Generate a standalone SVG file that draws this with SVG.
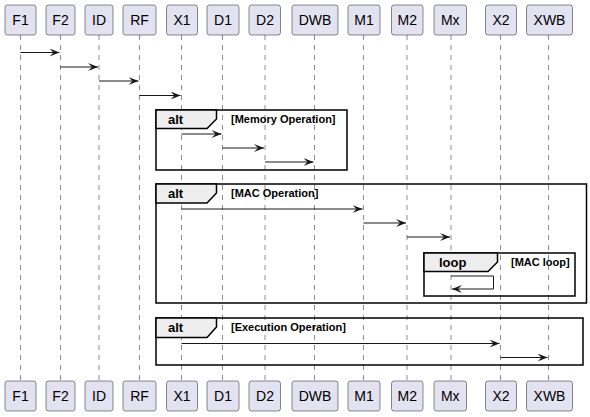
<svg xmlns="http://www.w3.org/2000/svg" width="590" height="417" viewBox="0 0 590 417">
<defs>
<style>
.p rect{fill:#E2E2F0;stroke:#181818;stroke-width:0.5}
.p text{font-family:"Liberation Sans",Arial,sans-serif;font-size:14px;fill:#000;text-anchor:middle}
.life{stroke:#181818;stroke-width:0.5;stroke-dasharray:5,5}
.msg{stroke:#181818;stroke-width:1;fill:none}
.frame{fill:none;stroke:#000;stroke-width:1.5}
.tab{fill:#EEEEEE;stroke:#000;stroke-width:1.5}
.kw{font-family:"Liberation Sans",Arial,sans-serif;font-size:13px;font-weight:bold;fill:#000}
.cond{font-family:"Liberation Sans",Arial,sans-serif;font-size:11px;font-weight:bold;fill:#000}
</style>
<marker id="ah" viewBox="0 0 10 8" refX="10" refY="4" markerWidth="10" markerHeight="8" orient="auto" markerUnits="userSpaceOnUse">
<polygon points="0,0 10,4 0,8 4,4" fill="#181818"/>
</marker>
</defs>
<g id="lifelines">
<line class="life" x1="20.5" y1="35" x2="20.5" y2="381"/>
<line class="life" x1="60.5" y1="35" x2="60.5" y2="381"/>
<line class="life" x1="99" y1="35" x2="99" y2="381"/>
<line class="life" x1="139.5" y1="35" x2="139.5" y2="381"/>
<line class="life" x1="181.5" y1="35" x2="181.5" y2="381"/>
<line class="life" x1="222.5" y1="35" x2="222.5" y2="381"/>
<line class="life" x1="265" y1="35" x2="265" y2="381"/>
<line class="life" x1="314.5" y1="35" x2="314.5" y2="381"/>
<line class="life" x1="363.5" y1="35" x2="363.5" y2="381"/>
<line class="life" x1="407" y1="35" x2="407" y2="381"/>
<line class="life" x1="451" y1="35" x2="451" y2="381"/>
<line class="life" x1="500.5" y1="35" x2="500.5" y2="381"/>
<line class="life" x1="548.5" y1="35" x2="548.5" y2="381"/>
</g>
<g id="frame-alt-memory">
<rect class="frame" x="156" y="110" width="191" height="60"/>
<path class="tab" d="M156,110 H216.5 V119 L207,128.5 H156 Z"/>
<text class="kw" x="168" y="124">alt</text>
<text class="cond" x="231" y="123">[Memory Operation]</text>
</g>
<g id="frame-alt-mac">
<rect class="frame" x="156" y="184" width="430.5" height="119"/>
<path class="tab" d="M156,184 H216.5 V193 L207,203 H156 Z"/>
<text class="kw" x="168" y="198">alt</text>
<text class="cond" x="231" y="197">[MAC Operation]</text>
</g>
<g id="frame-loop-mac">
<rect class="frame" x="424" y="253" width="151" height="43"/>
<path class="tab" d="M424,253 H497.5 V262 L488,271.5 H424 Z"/>
<text class="kw" x="439" y="267">loop</text>
<text class="cond" x="511" y="266">[MAC loop]</text>
</g>
<g id="frame-alt-exec">
<rect class="frame" x="156" y="318" width="427" height="47"/>
<path class="tab" d="M156,318 H216.5 V327 L207,337.5 H156 Z"/>
<text class="kw" x="168" y="332">alt</text>
<text class="cond" x="231" y="331">[Execution Operation]</text>
</g>
<g id="connectors">
<line class="msg" x1="20.5" y1="52.5" x2="59.5" y2="52.5" marker-end="url(#ah)"/>
<line class="msg" x1="60.5" y1="67" x2="98" y2="67" marker-end="url(#ah)"/>
<line class="msg" x1="99" y1="81" x2="138.5" y2="81" marker-end="url(#ah)"/>
<line class="msg" x1="139.5" y1="95.5" x2="180.5" y2="95.5" marker-end="url(#ah)"/>
<line class="msg" x1="181.5" y1="134" x2="221.5" y2="134" marker-end="url(#ah)"/>
<line class="msg" x1="222.5" y1="148" x2="264" y2="148" marker-end="url(#ah)"/>
<line class="msg" x1="265" y1="162" x2="313.5" y2="162" marker-end="url(#ah)"/>
<line class="msg" x1="181.5" y1="209" x2="362.5" y2="209" marker-end="url(#ah)"/>
<line class="msg" x1="363.5" y1="223" x2="406" y2="223" marker-end="url(#ah)"/>
<line class="msg" x1="407" y1="237" x2="450" y2="237" marker-end="url(#ah)"/>
<polyline class="msg" points="451,276 493.5,276 493.5,289 452,289" marker-end="url(#ah)"/>
<line class="msg" x1="181.5" y1="343.5" x2="499.5" y2="343.5" marker-end="url(#ah)"/>
<line class="msg" x1="500.5" y1="357.5" x2="547.5" y2="357.5" marker-end="url(#ah)"/>
</g>
<g id="F1" class="p"><rect x="5" y="5" width="31" height="30" rx="2.5"/><rect x="5" y="381" width="31" height="30" rx="2.5"/><text x="20.5" y="25">F1</text><text x="20.5" y="401">F1</text></g>
<g id="F2" class="p"><rect x="46" y="5" width="29" height="30" rx="2.5"/><rect x="46" y="381" width="29" height="30" rx="2.5"/><text x="60.5" y="25">F2</text><text x="60.5" y="401">F2</text></g>
<g id="ID" class="p"><rect x="85" y="5" width="28" height="30" rx="2.5"/><rect x="85" y="381" width="28" height="30" rx="2.5"/><text x="99" y="25">ID</text><text x="99" y="401">ID</text></g>
<g id="RF" class="p"><rect x="123" y="5" width="33" height="30" rx="2.5"/><rect x="123" y="381" width="33" height="30" rx="2.5"/><text x="139.5" y="25">RF</text><text x="139.5" y="401">RF</text></g>
<g id="X1" class="p"><rect x="166.5" y="5" width="31" height="30" rx="2.5"/><rect x="166.5" y="381" width="31" height="30" rx="2.5"/><text x="182" y="25">X1</text><text x="182" y="401">X1</text></g>
<g id="D1" class="p"><rect x="207" y="5" width="32" height="30" rx="2.5"/><rect x="207" y="381" width="32" height="30" rx="2.5"/><text x="223" y="25">D1</text><text x="223" y="401">D1</text></g>
<g id="D2" class="p"><rect x="249" y="5" width="31.5" height="30" rx="2.5"/><rect x="249" y="381" width="31.5" height="30" rx="2.5"/><text x="265" y="25">D2</text><text x="265" y="401">D2</text></g>
<g id="DWB" class="p"><rect x="292" y="5" width="46" height="30" rx="2.5"/><rect x="292" y="381" width="46" height="30" rx="2.5"/><text x="315" y="25">DWB</text><text x="315" y="401">DWB</text></g>
<g id="M1" class="p"><rect x="348" y="5" width="32" height="30" rx="2.5"/><rect x="348" y="381" width="32" height="30" rx="2.5"/><text x="364" y="25">M1</text><text x="364" y="401">M1</text></g>
<g id="M2" class="p"><rect x="391.5" y="5" width="31.5" height="30" rx="2.5"/><rect x="391.5" y="381" width="31.5" height="30" rx="2.5"/><text x="407.2" y="25">M2</text><text x="407.2" y="401">M2</text></g>
<g id="Mx" class="p"><rect x="434" y="5" width="32.5" height="30" rx="2.5"/><rect x="434" y="381" width="32.5" height="30" rx="2.5"/><text x="450.3" y="25">Mx</text><text x="450.3" y="401">Mx</text></g>
<g id="X2" class="p"><rect x="485.5" y="5" width="31" height="30" rx="2.5"/><rect x="485.5" y="381" width="31" height="30" rx="2.5"/><text x="501" y="25">X2</text><text x="501" y="401">X2</text></g>
<g id="XWB" class="p"><rect x="526.5" y="5" width="46" height="30" rx="2.5"/><rect x="526.5" y="381" width="46" height="30" rx="2.5"/><text x="549.5" y="25">XWB</text><text x="549.5" y="401">XWB</text></g>
</svg>
